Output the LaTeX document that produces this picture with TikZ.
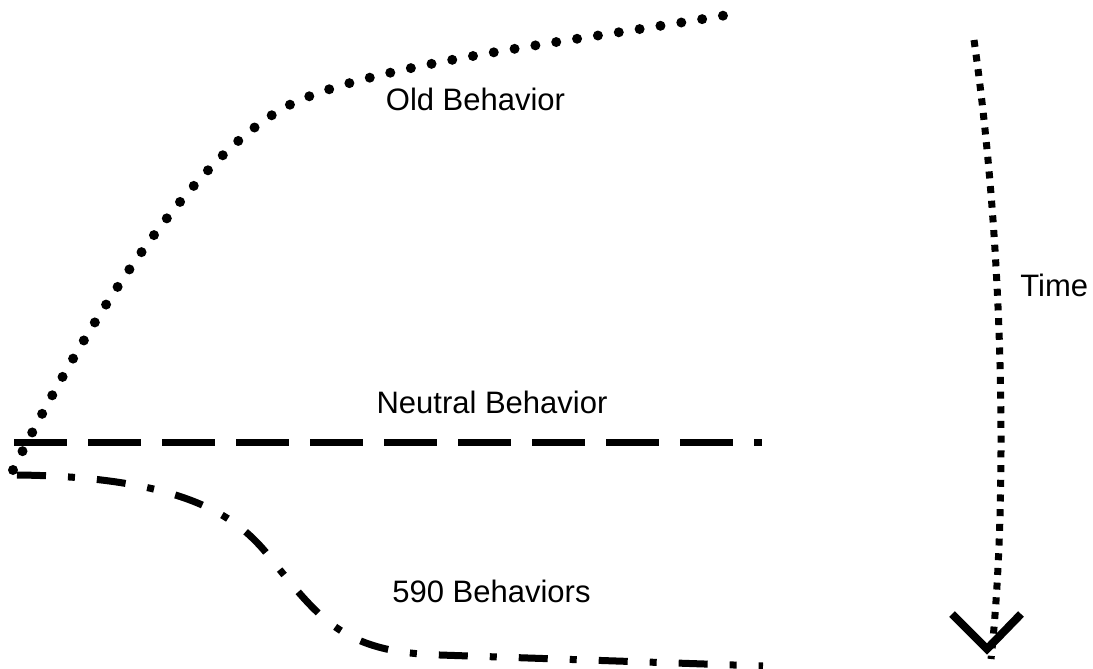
\documentclass[tikz,border=0pt]{standalone}
\usepackage{fontspec}
\setmainfont{Liberation Sans}
\begin{document}
\begin{tikzpicture}[x=0.5pt,y=-0.5pt,
  lbl/.style={inner sep=0pt,anchor=base,font=\fontsize{15.5}{18}\selectfont},
  oldline/.style={line width=5pt,line cap=round,dash pattern=on 0pt off 10.55pt},
  neutralline/.style={line width=3.5pt,line cap=butt,dash pattern=on 26.5pt off 10.5pt},
  newline/.style={line width=3.5pt,line cap=butt,dash pattern=on 14.5pt off 11pt on 3.5pt off 11pt},
  timeline/.style={line width=3.5pt,line cap=butt,dash pattern=on 3.5pt off 3.85pt},
  barb/.style={line width=4pt,line cap=butt}]
\useasboundingbox (0,0) rectangle (1093,669);
% labels
\node[lbl] (old) at (475.5,110) {Old Behavior};
\node[lbl] (neutral) at (492,413) {Neutral Behavior};
\node[lbl] (new) at (491.5,602) {590 Behaviors};
\node[lbl,anchor=base west] (time) at (1020,296) {Time};
% old behavior (dotted)
\coordinate (o0) at (13,470);
\coordinate (o1) at (300,100);
\coordinate (o2) at (727,15);
\draw[oldline] (o0) .. controls (103,290) and (210,138) .. (o1)
  .. controls (390,62) and (577,40.5) .. (o2);
% neutral behavior (dashed)
\coordinate (n0) at (14,442);
\coordinate (n1) at (762,442);
\draw[neutralline] (n0) -- (n1);
% new behaviors (dash-dot)
\coordinate (b0) at (17,475);
\coordinate (b1) at (280,570);
\coordinate (b2) at (440,655);
\coordinate (b3) at (763,666);
\draw[newline] (b0) .. controls (217,477) and (252,535) .. (b1)
  .. controls (324,624) and (350,652.5) .. (b2) -- (b3);
% time arrow
\coordinate (t0) at (974,40);
\coordinate (t1) at (991,659);
\draw[timeline] (t0) .. controls (1004,250) and (1008,500) .. (t1);
\coordinate (vl) at (952,614);
\coordinate (va) at (987,649);
\coordinate (vr) at (1021,614);
\draw[barb] (vl) -- (va) -- (vr);
\end{tikzpicture}
\end{document}
